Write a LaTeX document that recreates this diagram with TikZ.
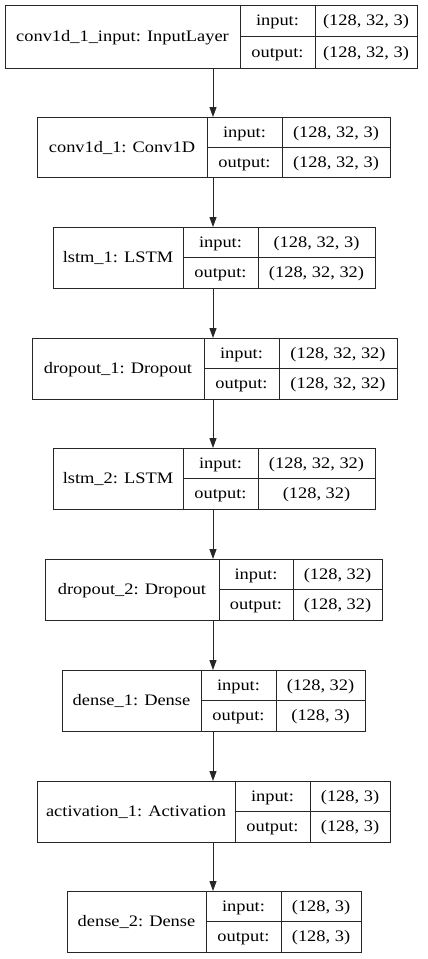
\documentclass[tikz,border=0pt]{standalone}
\usepackage{fontspec}
\setmainfont{Liberation Serif}[FakeStretch=1.15]
\usetikzlibrary{arrows.meta}
\tikzset{
  cell/.style={draw=black!85, line width=1pt},
  txt/.style={font=\fontsize{16}{16}\selectfont, inner sep=0pt, text height=10pt, text depth=0pt},
  arr/.style={-{Triangle[length=10pt,width=7pt]}, line width=1pt, draw=black!85, fill=black!85}
}
\begin{document}
\begin{tikzpicture}[x=1pt,y=-1pt]
\useasboundingbox (0,0) rectangle (428,959);
\coordinate (axis) at (213,0);
\foreach \n/\l/\da/\db/\r/\t/\b/\lab/\vin/\vout in {
 L1/5/240/315/417/5/68/{conv1d\_1\_input: InputLayer}/{(128, 32, 3)}/{(128, 32, 3)},
 L2/37/207/282/390/117/177/{conv1d\_1: Conv1D}/{(128, 32, 3)}/{(128, 32, 3)},
 L3/53/183/258/375/227/288/{lstm\_1: LSTM}/{(128, 32, 3)}/{(128, 32, 32)},
 L4/32/204/279/397/338/399/{dropout\_1: Dropout}/{(128, 32, 32)}/{(128, 32, 32)},
 L5/53/183/258/375/448/509/{lstm\_2: LSTM}/{(128, 32, 32)}/{(128, 32)},
 L6/45/219/293/382/559/620/{dropout\_2: Dropout}/{(128, 32)}/{(128, 32)},
 L7/62/201/276/365/670/731/{dense\_1: Dense}/{(128, 32)}/{(128, 3)},
 L8/37/235/310/390/781/842/{activation\_1: Activation}/{(128, 3)}/{(128, 3)},
 L9/67/206/281/361/891/952/{dense\_2: Dense}/{(128, 3)}/{(128, 3)}}
{
 \node[cell, anchor=north west, inner sep=0pt, outer sep=0pt, minimum width={(\r-\l)*1pt}, minimum height={(\b-\t)*1pt}] (\n) at (\l,\t) {};
 \draw[cell] (\da,\t) -- (\da,\b) (\db,\t) -- (\db,\b) (\da,{(\t+\b)/2}) -- (\r,{(\t+\b)/2});
 \node[txt] (\n-lab) at ({(\l+\da)/2},{(\t+\b)/2}) {\lab};
 \node[txt] (\n-ik) at ({(\da+\db)/2},{(3*\t+\b)/4}) {input:};
 \node[txt] (\n-ok) at ({(\da+\db)/2},{(\t+3*\b)/4}) {output:};
 \node[txt] (\n-iv) at ({(\db+\r)/2},{(3*\t+\b)/4}) {\vin};
 \node[txt] (\n-ov) at ({(\db+\r)/2},{(\t+3*\b)/4}) {\vout};
}
\foreach \a/\b in {L1/L2,L2/L3,L3/L4,L4/L5,L5/L6,L6/L7,L7/L8,L8/L9}
 \draw[arr] (\a.south -| axis) -- (\b.north -| axis);
\end{tikzpicture}
\end{document}
